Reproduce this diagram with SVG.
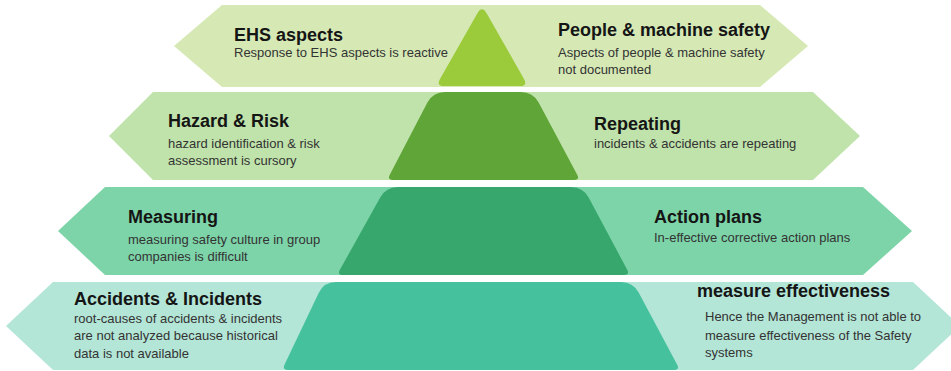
<svg xmlns="http://www.w3.org/2000/svg" width="951" height="371" viewBox="0 0 951 371">
<style>
.t{font-family:"Liberation Sans",Arial,sans-serif;font-weight:bold;font-size:18px;fill:#151515}
.s{font-family:"Liberation Sans",Arial,sans-serif;font-size:13px;fill:#333333}
.a1{fill:#d6e9b5}.a2{fill:#c0e3ab}.a3{fill:#7dd4a9}.a4{fill:#b3e6d7}
</style>
<rect width="951" height="371" fill="#ffffff"/>
<g id="arrows">
<g id="row1-left"><polygon class="a1" points="174,46 222,5 483,5 483,87 222,87"/></g>
<g id="row1-right"><polygon class="a1" points="483,5 760,5 808,46 760,87 483,87"/></g>
<g id="row2-left"><polygon class="a2" points="109,136 153,92 483,92 483,180 153,180"/></g>
<g id="row2-right"><polygon class="a2" points="483,92 813,92 860,136 813,180 483,180"/></g>
<g id="row3-left"><polygon class="a3" points="58,231 105,187 483,187 483,275 105,275"/></g>
<g id="row3-right"><polygon class="a3" points="483,187 863,187 912,231 863,275 483,275"/></g>
<g id="row4-left"><polygon class="a4" points="6,326 53,282 483,282 483,370 53,370"/></g>
<g id="row4-right"><polygon class="a4" points="483,282 913,282 960,326 913,370 483,370"/></g>
</g>
<g id="pyramid">
<g id="level1"><path fill="#9bcb3b" d="M477.1,13.7 Q482,5 486.9,13.7 L524,79 Q528,86 520,86 L444,86 Q436,86 440,79 Z"/></g>
<g id="level2"><path fill="#5fa537" d="M445,92 L521,92 Q533,92 538.65,102.6 L577.2,174.7 Q580,180 574,180 L393,180 Q387,180 389.8,174.7 L427.4,102.6 Q433,92 445,92 Z"/></g>
<g id="level3"><path fill="#37a76d" d="M398,187 L571,187 Q583,187 588.65,197.6 L627.2,269.7 Q630,275 624,275 L343,275 Q337,275 339.9,269.8 L380.2,197.5 Q386,187 398,187 Z"/></g>
<g id="level4"><path fill="#45c19e" d="M336,282 L621,282 Q633,282 638.65,292.6 L677.2,364.7 Q680,370 674,370 L288,370 Q282,370 284.6,364.6 L318.8,292.8 Q324,282 336,282 Z"/></g>
</g>
<g id="ehs-aspects">
<text class="t" x="234" y="41">EHS aspects</text>
<text class="s" x="234" y="57">Response to EHS aspects is reactive</text>
</g>
<g id="people-machine-safety">
<text class="t" x="558" y="36">People &amp; machine safety</text>
<text class="s" x="558" y="57">Aspects of people &amp; machine safety</text>
<text class="s" x="558" y="74">not documented</text>
</g>
<g id="hazard-risk">
<text class="t" x="168" y="127">Hazard &amp; Risk</text>
<text class="s" x="168" y="148">hazard identification &amp; risk</text>
<text class="s" x="168" y="165">assessment is cursory</text>
</g>
<g id="repeating">
<text class="t" x="594" y="130">Repeating</text>
<text class="s" x="594" y="148">incidents &amp; accidents are repeating</text>
</g>
<g id="measuring">
<text class="t" x="128" y="223">Measuring</text>
<text class="s" x="128" y="244">measuring safety culture in group</text>
<text class="s" x="128" y="261">companies is difficult</text>
</g>
<g id="action-plans">
<text class="t" x="654" y="223">Action plans</text>
<text class="s" x="654" y="242">In-effective corrective action plans</text>
</g>
<g id="accidents-incidents">
<text class="t" x="74" y="305">Accidents &amp; Incidents</text>
<text class="s" x="74" y="323">root-causes of accidents &amp; incidents</text>
<text class="s" x="74" y="340">are not analyzed because historical</text>
<text class="s" x="74" y="358">data is not available</text>
</g>
<g id="measure-effectiveness">
<text class="t" x="697" y="297">measure effectiveness</text>
<text class="s" x="705" y="321">Hence the Management is not able to</text>
<text class="s" x="705" y="340">measure effectiveness of the Safety</text>
<text class="s" x="705" y="357">systems</text>
</g>
</svg>
